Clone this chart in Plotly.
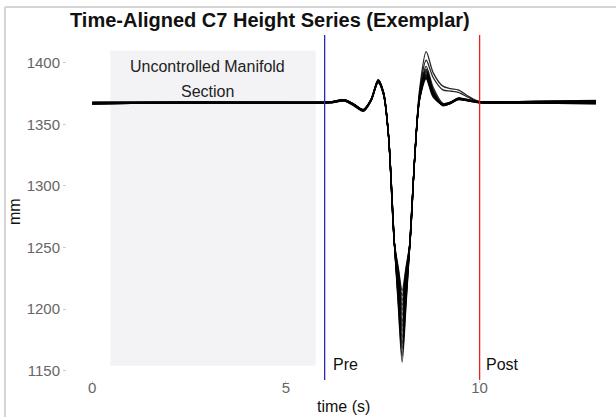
import plotly.graph_objects as go

# time points (s)
time_s = [0, 1, 2, 3, 4, 5, 5.8, 6.2, 6.5, 6.75, 7.0, 7.2, 7.38, 7.52, 7.65, 7.8, 7.9, 8.0,
          8.1, 8.2, 8.32, 8.45, 8.62, 8.8, 9.05, 9.25, 9.45, 9.7, 10.0, 11, 12, 13]

# C7 height (mm) per trial
trial_01 = [1366.5,1367,1367.5,1367.5,1367.5,1367.5,1367.5,1368,1369.5,1366,1361,1370,1386,1376,1341,1254,1203,1157,1203,1254,1322,1378,1409,1392,1381,1379,1378,1373,1368.5,1368.5,1369,1369]
trial_02 = [1367,1367.5,1368,1368,1367.5,1367.5,1368,1368.5,1370,1366.5,1361.5,1370.5,1385,1375,1340,1253,1206,1162,1206,1253,1321,1376,1402,1388,1378,1377,1376,1372,1368,1368,1368,1368.5]
trial_03 = [1367.5,1368,1368,1368,1368,1368,1367.5,1368,1369.5,1366,1362,1370,1384,1374,1340,1254,1209,1168,1209,1254,1321,1374,1397,1380,1367,1368,1371,1370,1368,1367.5,1367.5,1367]
trial_04 = [1367,1367,1367,1367.5,1367.5,1367,1367,1367.5,1369,1365.5,1361,1369,1385,1375,1340,1253,1211,1172,1211,1253,1320,1373,1395,1378,1366,1367.5,1370.5,1369.5,1368,1368,1368.5,1369]
trial_05 = [1368,1368,1368,1368,1368,1368,1368,1368.5,1370,1366.5,1362,1370,1386,1376,1341,1254,1214,1177,1214,1254,1321,1373,1394,1377,1365.5,1367,1371,1369.5,1367.5,1367.5,1368,1368]
trial_06 = [1366.5,1367,1367,1367,1367,1367,1367.5,1368,1369,1365,1360.5,1369,1384,1374,1339,1252,1216,1182,1216,1252,1320,1372,1393,1376,1365,1367,1370,1369,1368,1368,1367.5,1367.5]
trial_07 = [1367,1367.5,1367.5,1367.5,1367.5,1367.5,1367.5,1368,1369.5,1366,1361.5,1370,1385,1375,1340,1253,1219,1186,1219,1253,1320,1372,1392,1376,1366,1367.5,1371,1369.5,1368,1368,1368,1368]
trial_08 = [1367.5,1367.5,1367.5,1368,1368,1368,1368,1368.5,1370,1366.5,1362,1370.5,1386,1376,1341,1254,1221,1190,1221,1254,1321,1372,1391,1375,1366,1368,1371.5,1370,1368.5,1368.5,1369,1369.5]
trial_09 = [1366.5,1367,1367,1367,1367,1367,1367,1367.5,1369,1365.5,1361,1369.5,1384,1374,1340,1253,1224,1195,1224,1253,1320,1371,1390,1375,1365.5,1367,1370.5,1369,1367.5,1367,1367,1366.5]
trial_10 = [1367,1367.5,1367.5,1367.5,1367.5,1367.5,1367.5,1368,1369.5,1366,1361.5,1370,1385,1375,1340,1253,1226,1199,1226,1253,1320,1371,1390,1374,1366,1367.5,1370.5,1369.5,1368,1368,1368,1368]
trial_11 = [1368,1368,1368,1368,1368,1368,1368,1368.5,1370,1366.5,1362,1370.5,1386,1376,1341,1254,1228,1203,1228,1254,1321,1371,1389,1374,1366.5,1368,1371,1370,1368.5,1368.5,1368.5,1369]
trial_12 = [1367,1367,1367,1367,1367,1367,1367.5,1368,1369,1365.5,1361,1369.5,1384,1374,1340,1253,1230,1207,1230,1253,1320,1370,1388,1373,1365.5,1367,1370,1369,1367.5,1367.5,1367.5,1367.5]
trial_13 = [1367.5,1367.5,1367.5,1367.5,1367.5,1367.5,1367.5,1368,1369.5,1366,1361.5,1370,1385,1375,1340,1253,1232,1211,1232,1253,1320,1370,1388,1373,1366,1367.5,1370.5,1369.5,1368,1368,1368.5,1368.5]
trial_14 = [1367,1367.5,1368,1368,1368,1368,1368,1368.5,1369.5,1366,1361.5,1370,1385,1375,1341,1254,1234,1215,1234,1254,1321,1370,1387,1372,1366,1367.5,1371,1369.5,1368,1367.5,1367,1367]

trials = [trial_01, trial_02, trial_03, trial_04, trial_05, trial_06, trial_07,
          trial_08, trial_09, trial_10, trial_11, trial_12, trial_13, trial_14]

x_ticks = [0, 5, 10]
y_ticks = [1150, 1200, 1250, 1300, 1350, 1400]
pre_t, post_t = 6, 10
umf_start, umf_end = 0.47, 5.77
umf_low, umf_high = 1154, 1410

FONT = "Liberation Sans, Arial, sans-serif"

fig = go.Figure()
for i, tr in enumerate(trials):
    fig.add_trace(go.Scatter(x=time_s, y=tr, mode="lines", name=f"Trial {i+1}",
                             line=dict(color="rgba(0,0,0,0.85)", width=1.3,
                                       shape="spline", smoothing=0.8),
                             showlegend=False))

fig.add_shape(type="rect", x0=umf_start, x1=umf_end, y0=umf_low, y1=umf_high,
              xref="x", yref="y", fillcolor="#f3f3f5", line=dict(width=0), layer="below")
fig.add_shape(type="line", x0=pre_t, x1=pre_t, y0=0, y1=1, xref="x", yref="paper",
              line=dict(color="#2a2ab0", width=1.3))
fig.add_shape(type="line", x0=post_t, x1=post_t, y0=0, y1=1, xref="x", yref="paper",
              line=dict(color="#f02020", width=1.3))
# outer frame
fig.add_shape(type="line", x0=-0.113, x1=-0.113, y0=-0.2, y1=1.081, xref="paper", yref="paper",
              line=dict(color="#d4d4d4", width=2))
fig.add_shape(type="line", x0=-0.113, x1=1.05, y0=1.081, y1=1.081, xref="paper", yref="paper",
              line=dict(color="#d4d4d4", width=2))

fig.add_annotation(x=2.98, y=1397, text="Uncontrolled Manifold", showarrow=False,
                   font=dict(family=FONT, size=16, color="#222"))
fig.add_annotation(x=2.98, y=1377, text="Section", showarrow=False,
                   font=dict(family=FONT, size=16, color="#222"))
fig.add_annotation(x=pre_t + 0.17, y=1155, text="Pre", showarrow=False, xanchor="left",
                   font=dict(family=FONT, size=16, color="#111"))
fig.add_annotation(x=post_t + 0.12, y=1155, text="Post", showarrow=False, xanchor="left",
                   font=dict(family=FONT, size=16, color="#111"))
# axis titles
fig.add_annotation(x=0.503, y=-0.078, xref="paper", yref="paper", text="time (s)",
                   xanchor="center", yanchor="middle",
                   showarrow=False, font=dict(family=FONT, size=16, color="#111"))
fig.add_annotation(x=-0.0947, y=0.487, xref="paper", yref="paper", text="mm",
                   xanchor="center", yanchor="middle",
                   textangle=-90, showarrow=False, font=dict(family=FONT, size=16, color="#111"))

fig.update_layout(
    width=616, height=417,
    margin=dict(l=67, r=0, t=35, b=37, autoexpand=False),
    paper_bgcolor="white", plot_bgcolor="white",
    font=dict(family=FONT),
    title=dict(text="<b>Time-Aligned C7 Height Series (Exemplar)</b>",
               x=70/616, xanchor="left", y=1-20/417, yanchor="middle",
               font=dict(family=FONT, size=20, color="#111")),
    xaxis=dict(range=[-0.65, 13.52], tickvals=x_ticks, showgrid=False, zeroline=False,
               showline=False, ticks="outside", ticklen=2, tickcolor="#cccccc",
               ticklabelstandoff=-8,
               automargin=False, tickfont=dict(family=FONT, size=15, color="#666")),
    yaxis=dict(range=[1142.5, 1422.5], tickvals=y_ticks, showgrid=False, zeroline=False,
               showline=False, ticks="outside", ticklen=3, tickcolor="#cccccc",
               automargin=False, tickfont=dict(family=FONT, size=15, color="#666")),
)

fig.write_html("out.html", config={"displayModeBar": False},
               post_script="document.body.style.margin='0px';")
